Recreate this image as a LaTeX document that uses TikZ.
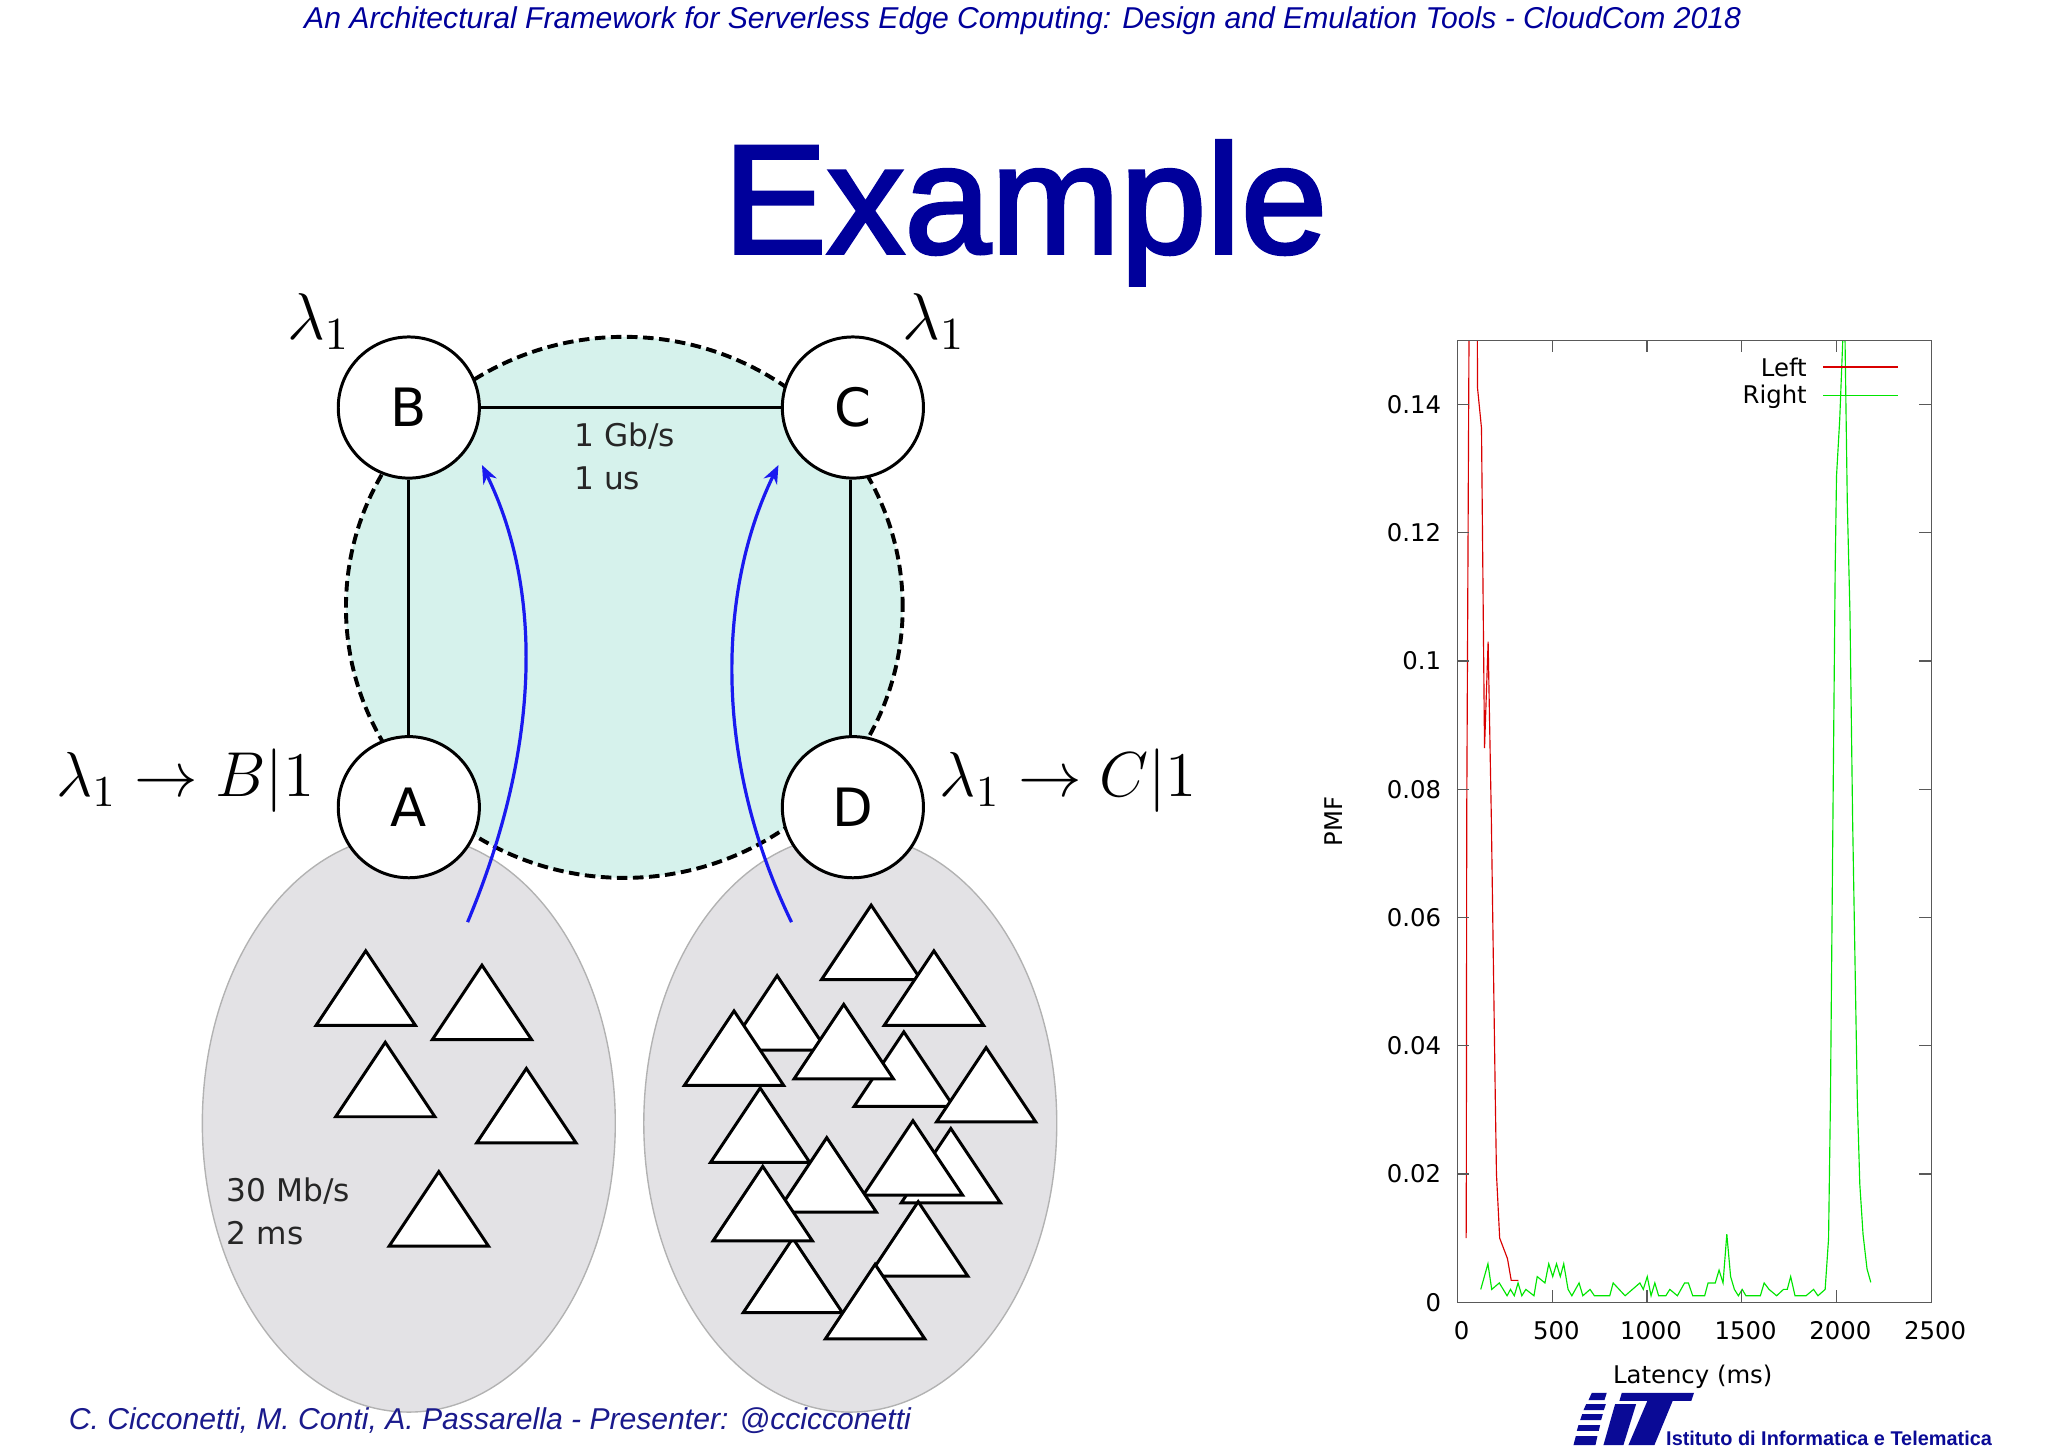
\documentclass[tikz,border=0pt]{standalone}
\usepackage{fontspec}
\setmainfont{Liberation Sans}
\newfontfamily\dejavu{DejaVu Sans}
\newfontfamily\titlefont[FakeBold=2.2]{Liberation Sans}
\usetikzlibrary{shapes.geometric,arrows.meta}
\definecolor{slideblue}{HTML}{00009B}
\definecolor{footblue}{HTML}{1A1A8C}
\definecolor{tealfill}{HTML}{D6F2EC}
\definecolor{greyfill}{HTML}{E3E2E5}
\definecolor{flowblue}{HTML}{1A1AF0}
\definecolor{logoblue}{HTML}{0A0A96}
\tikzset{
  router/.style={draw, circle, fill=white, line width=.65pt, inner sep=0pt, minimum size=1.08cm, font=\dejavu\fontsize{11.5}{12}\selectfont},
  cloudarea/.style={draw=black, ellipse, fill=tealfill, line width=.85pt, dash pattern=on 2.3pt off 1.2pt, inner sep=0pt, minimum width=4.26cm, minimum height=4.14cm},
  hostarea/.style={draw=black!30, ellipse, fill=greyfill, line width=.3pt, inner sep=0pt, minimum width=3.16cm, minimum height=4.42cm},
  host/.style={draw, fill=white, line width=.65pt, line join=miter},
  link/.style={line width=.65pt},
  flow/.style={draw=flowblue, line width=.7pt, -{Stealth[length=4pt,width=3.2pt]}},
  mathlabel/.style={inner sep=0pt, font=\fontsize{14}{16}\selectfont},
  netlabel/.style={inner sep=0pt, align=left, anchor=north west, text=black!85, font=\dejavu\fontsize{6.8}{9.4}\selectfont},
  slidetext/.style={inner sep=0pt, text=footblue, font=\itshape\fontsize{6.56}{8}\selectfont},
  plotlabel/.style={inner sep=0pt, font=\dejavu\fontsize{5.3}{6}\selectfont},
  plotframe/.style={draw=black!65, line width=.3pt},
  leftcurve/.style={draw=red!85!black, line width=.25pt},
  rightcurve/.style={draw=green!90!black, line width=.25pt}
}
\begin{document}
\begin{tikzpicture}[x=0.01cm,y=-0.01cm]
      \useasboundingbox (0,0) rectangle (1568,1108);

      \node[slidetext,text=slideblue] (header) at (783,16) {An Architectural Framework for Serverless Edge Computing: Design and Emulation Tools - CloudCom 2018};
      \node[inner sep=0pt,text=slideblue,font=\titlefont\fontsize{33.8}{36}\selectfont] (title) at (785,163) {Example};

      \node[cloudarea] (cloud) at (478,465) {};
      \node[hostarea] (leftarea) at (313,860) {};
      \node[hostarea] (rightarea) at (651,860) {};

      \foreach \x/\y in {280/728, 369/739, 295/798, 403/818, 336/897}
        \draw[host] (\x,\y) -- ++(38,57) -- ++(-76,0) -- cycle;
      \foreach \x/\y in {595/747, 562/774, 692/790, 646/769, 755/802, 667/693, 715/728, 728/864, 699/858, 582/833, 633/871, 607/948, 584/893, 703/920, 670/968}
        \draw[host] (\x,\y) -- ++(38,57) -- ++(-76,0) -- cycle;

      \node[router] (B) at (313,312) {B};
      \node[router] (C) at (653,312) {C};
      \node[router] (A) at (313,618) {A};
      \node[router] (D) at (653,618) {D};

      \foreach \from/\to in {B/C, B/A}
        \draw[link] (\from) -- (\to);
      \draw[link] ([xshift=-0.02cm]C.south) -- ([xshift=-0.02cm]D.north);

      \coordinate (srcA) at (358,706);
      \coordinate (tipB) at (369,356);
      \coordinate (srcD) at (606,706);
      \coordinate (tipC) at (596,356);
      \draw[flow] (srcA) .. controls (415,570) and (415,450) .. (tipB);
      \draw[flow] (srcD) .. controls (545,580) and (550,450) .. (tipC);

      \node[netlabel] (corelink) at (439,323) {1 Gb/s\\1 us};
      \node[netlabel] (accesslink) at (173,901) {30 Mb/s\\2 ms};

      \node[mathlabel] (lamB) at (244,246) {$\lambda_1$};
      \node[mathlabel] (lamC) at (715,246) {$\lambda_1$};
      \node[mathlabel,scale=.96] (ruleA) at (142,598) {$\lambda_1 \rightarrow B|1$};
      \node[mathlabel,scale=.96] (ruleD) at (818,598) {$\lambda_1 \rightarrow C|1$};

      \node[slidetext,anchor=west] (footer) at (52,1088) {C. Cicconetti, M. Conti, A. Passarella - Presenter: @ccicconetti};

      \begin{scope}[shift={(1116,997)},x=0.001444cm,y=49.067cm]
        \begin{scope}
          \clip (0,0) rectangle (2500,0.15);
          \draw[leftcurve] plot coordinates {(45,0.01) (46,0.02) (48,0.0754) (60,0.15) (62,0.16) (103,0.16) (105,0.1426) (126,0.1363) (142,0.0864) (161,0.103) (178,0.0754) (199,0.0315) (205,0.02) (222,0.01) (263,0.0068) (283,0.0034) (321,0.0034)};
          \draw[rightcurve] plot coordinates {(122,0.002) (160,0.006) (180,0.002) (220,0.003) (261,0.001) (279,0.002) (299,0.001) (319,0.003) (339,0.001) (360,0.002) (403,0.001) (420,0.004) (461,0.003) (481,0.006) (502,0.004) (522,0.006) (542,0.004) (560,0.006) (583,0.002) (603,0.001) (641,0.003) (661,0.001) (699,0.002) (722,0.001) (803,0.001) (821,0.003) (884,0.001) (962,0.003) (980,0.002) (1001,0.004) (1021,0.001) (1041,0.003) (1061,0.001) (1099,0.001) (1120,0.002) (1160,0.001) (1198,0.003) (1218,0.003) (1241,0.001) (1304,0.001) (1322,0.003) (1360,0.003) (1380,0.005) (1401,0.003) (1421,0.0106) (1441,0.004) (1461,0.002) (1482,0.001) (1502,0.002) (1522,0.001) (1598,0.001) (1618,0.003) (1644,0.002) (1684,0.001) (1720,0.002) (1740,0.002) (1758,0.004) (1781,0.001) (1839,0.001) (1879,0.002) (1902,0.001) (1940,0.002) (1958,0.0099) (1968,0.0314) (1981,0.0753) (1993,0.1143) (2000,0.1288) (2017,0.1377) (2033,0.15) (2040,0.16) (2045,0.15) (2057,0.1246) (2071,0.1075) (2085,0.0753) (2110,0.0314) (2123,0.0184) (2140,0.0106) (2161,0.0052) (2181,0.0031)};
        \end{scope}
        \draw[plotframe] (0,0) rectangle (2500,0.15);
        \foreach \v in {500,1000,1500,2000}
        {
          \draw[plotframe] (\v,0) -- +(0,0.09cm);
          \draw[plotframe] (\v,0.15) -- +(0,-0.09cm);
        }
        \foreach \v in {0,500,1000,1500,2000,2500}
          \node[plotlabel,xshift=0.03cm,yshift=-0.22cm] (xlab\v) at (\v,0) {\v};
        \foreach \v in {0.02,0.04,0.06,0.08,0.1,0.12,0.14}
        {
          \draw[plotframe] (0,\v) -- +(0.09cm,0);
          \draw[plotframe] (2500,\v) -- +(-0.09cm,0);
        }
        \foreach \v in {0,0.02,0.04,0.06,0.08,0.1,0.12,0.14}
          \node[plotlabel,anchor=east,xshift=-0.12cm] (ylab\v) at (0,\v) {\v};
      \end{scope}

      \node[plotlabel] (xtitle) at (1296,1054) {Latency (ms)};
      \node[plotlabel,rotate=90] (ytitle) at (1021,629) {PMF};
      \node[plotlabel,anchor=east] (legleft) at (1384,281) {Left};
      \node[plotlabel,anchor=east] (legright) at (1384,304) {Right};
      \draw[leftcurve] (1396,281) -- (1453,281);
      \draw[rightcurve] (1396,303) -- (1453,303);

      \begin{scope}[shift={(1194.5,1056.7)},x=0.002552cm,y=-0.002552cm,fill=logoblue]
        \fill (95,38) -- (140,38) -- (133,60) -- (85,60) -- cycle;
        \fill (78,72) -- (137,72) -- (131,90) -- (70,90) -- cycle;
        \fill (66,102) -- (128,102) -- (123,120) -- (60,120) -- cycle;
        \fill (55,135) -- (120,135) -- (116,152) -- (50,152) -- cycle;
        \fill (47,168) -- (112,168) -- (106,195) -- (40,195) -- cycle;
        \fill (165,72) -- (228,72) -- (190,195) -- (130,195) -- cycle;
        \fill (185,38) -- (402,38) -- (394,62) -- (338,62) -- (283,195) -- (205,195) -- (262,62) -- (178,62) -- cycle;
      \end{scope}
      \node[inner sep=0pt,anchor=west,text=logoblue,font=\bfseries\fontsize{4.33}{6}\selectfont] (institute) at (1275,1101) {Istituto di Informatica e Telematica};
    \end{tikzpicture}
\end{document}
